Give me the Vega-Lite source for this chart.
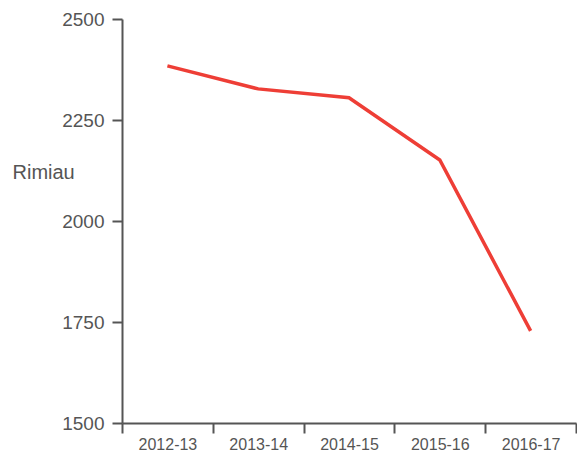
{
  "$schema": "https://vega.github.io/schema/vega-lite/v6.json",
  "autosize": "none",
  "width": 454,
  "height": 404,
  "padding": {"left": 122, "top": 19, "right": 1, "bottom": 33},
  "background": "white",
  "config": {"view": {"stroke": null}, "font": "Liberation Sans"},
  "data": {"values": [
    {"year": "2012-13", "value": 2384},
    {"year": "2013-14", "value": 2327},
    {"year": "2014-15", "value": 2305},
    {"year": "2015-16", "value": 2151},
    {"year": "2016-17", "value": 1728}
  ]},
  "mark": {"type": "line", "color": "#ee3e36", "strokeWidth": 3.5},
  "encoding": {
    "x": {
      "field": "year", "type": "ordinal", "bandPosition": 0.5,
      "scale": {"type": "band", "paddingInner": 0, "paddingOuter": 0},
      "axis": {
        "title": null, "labelAngle": 0, "tickBand": "extent",
        "domainColor": "#555555", "domainWidth": 2, "tickColor": "#555555", "tickWidth": 2, "tickSize": 10,
        "labelColor": "#555555", "labelFontSize": 16, "labelPadding": 3, "grid": false
      }
    },
    "y": {
      "field": "value", "type": "quantitative",
      "scale": {"domain": [1500, 2500], "nice": false, "zero": false},
      "axis": {
        "values": [1500, 1750, 2000, 2250, 2500], "format": "d", "grid": false,
        "domainColor": "#555555", "domainWidth": 2, "tickColor": "#555555", "tickWidth": 2, "tickSize": 10,
        "labelColor": "#555555", "labelFontSize": 19, "labelPadding": 8,
        "title": "Rimiau", "titleAngle": 0, "titleAlign": "left", "titleBaseline": "middle",
        "titleX": -110, "titleY": 153, "titleFontWeight": "normal", "titleFontSize": 20, "titleColor": "#555555"
      }
    }
  }
}
